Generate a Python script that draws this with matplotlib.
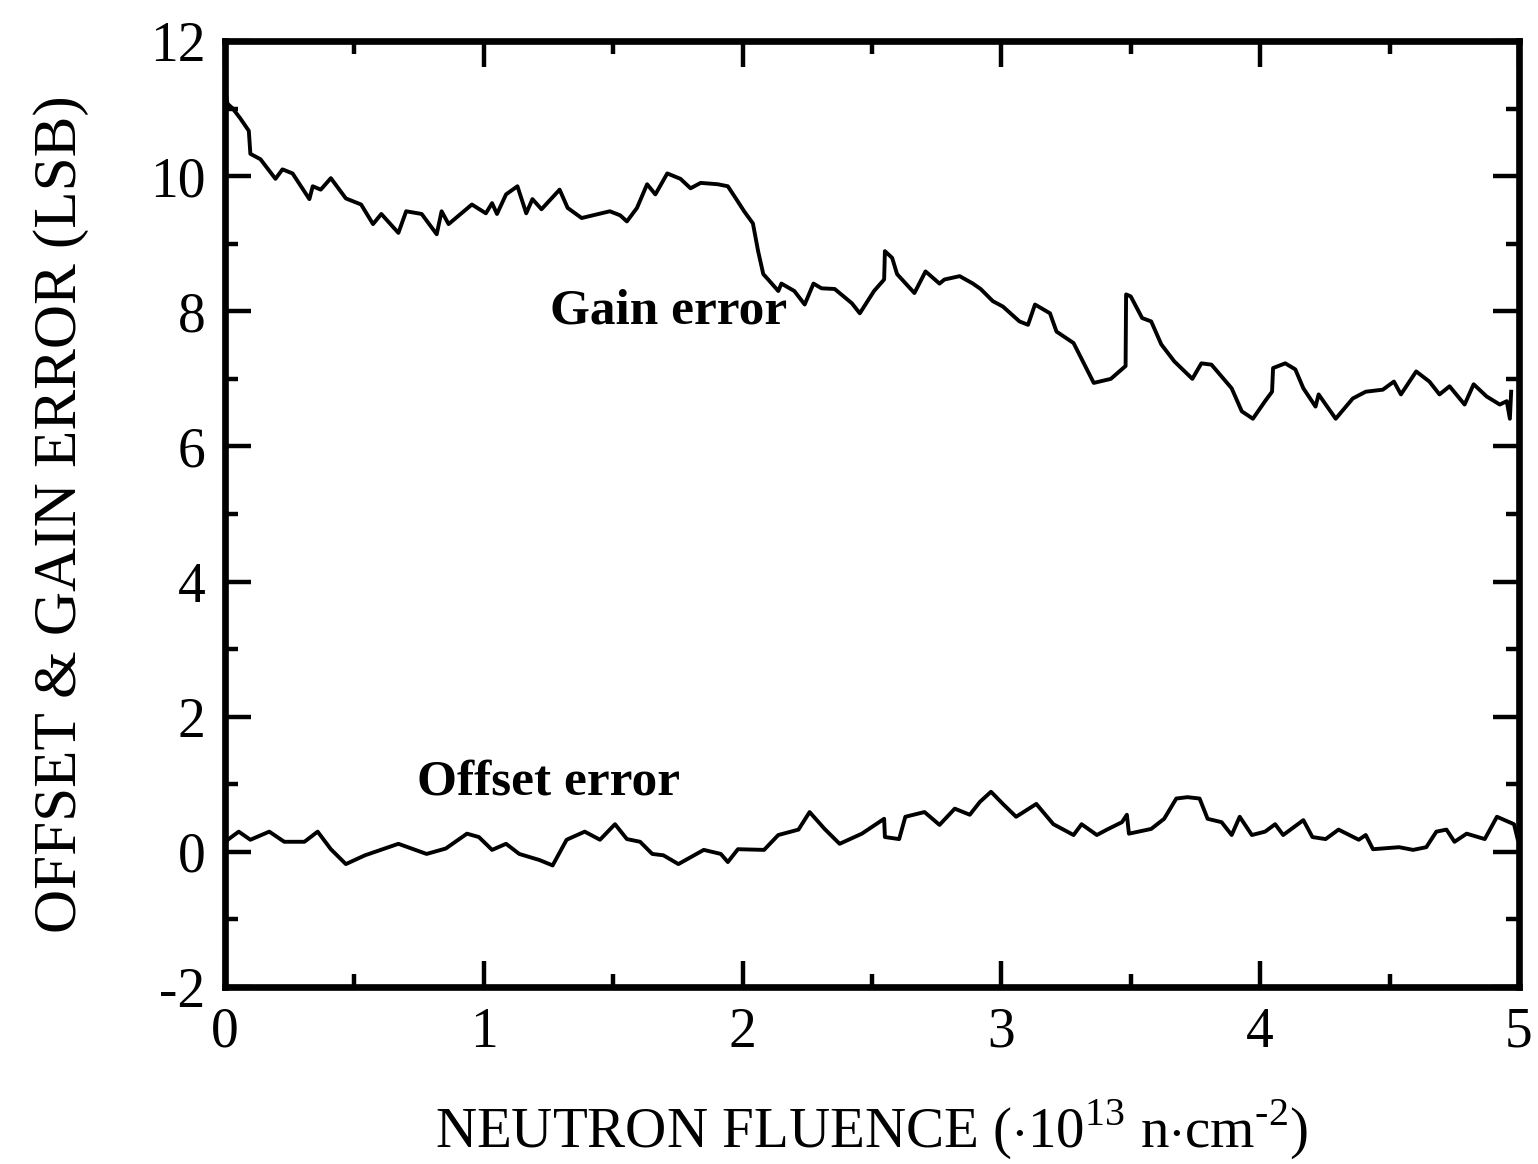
import matplotlib
matplotlib.use('Agg')
import matplotlib.pyplot as plt
from matplotlib.ticker import MultipleLocator

plt.rcParams['font.family'] = ['Liberation Serif', 'DejaVu Serif']
plt.rcParams['mathtext.fontset'] = 'custom'
plt.rcParams['mathtext.rm'] = 'Liberation Serif'
plt.rcParams['axes.unicode_minus'] = False

# Gain error curve
gain_x = [0.0, 0.01, 0.03, 0.058, 0.092, 0.098, 0.137, 0.195, 0.222, 0.261, 0.326,
          0.339, 0.37, 0.409, 0.467, 0.526, 0.572, 0.604, 0.67, 0.70, 0.76, 0.818,
          0.837, 0.864, 0.954, 1.008, 1.032, 1.051, 1.086, 1.13, 1.164, 1.188, 1.223,
          1.293, 1.324, 1.378, 1.487, 1.527, 1.553, 1.592, 1.631, 1.663, 1.709, 1.76,
          1.799, 1.838, 1.904, 1.943, 1.974, 2.006, 2.04, 2.06, 2.08, 2.099, 2.138,
          2.15, 2.2, 2.24, 2.274, 2.305, 2.356, 2.422, 2.453, 2.508, 2.547, 2.55,
          2.578, 2.597, 2.664, 2.707, 2.761, 2.78, 2.839, 2.89, 2.92, 2.967, 3.006,
          3.07, 3.103, 3.13, 3.188, 3.213, 3.279, 3.357, 3.423, 3.48, 3.482, 3.5,
          3.544, 3.579, 3.618, 3.668, 3.738, 3.773, 3.812, 3.89, 3.929, 3.972, 4.019,
          4.046, 4.05, 4.097, 4.136, 4.167, 4.214, 4.226, 4.292, 4.358, 4.408, 4.474,
          4.517, 4.544, 4.603, 4.654, 4.693, 4.732, 4.79, 4.825, 4.875, 4.926, 4.953,
          4.965, 4.97]
gain_y = [11.29, 11.07, 11.0, 10.86, 10.67, 10.33, 10.25, 9.96, 10.1, 10.04, 9.66,
          9.85, 9.8, 9.97, 9.67, 9.58, 9.29, 9.44, 9.16, 9.48, 9.44, 9.14,
          9.48, 9.29, 9.58, 9.45, 9.6, 9.44, 9.73, 9.85, 9.45, 9.66, 9.51,
          9.8, 9.53, 9.38, 9.48, 9.42, 9.33, 9.53, 9.88, 9.73, 10.04, 9.96,
          9.82, 9.9, 9.88, 9.85, 9.67, 9.48, 9.3, 8.89, 8.55, 8.47, 8.3,
          8.41, 8.3, 8.1, 8.41, 8.34, 8.33, 8.12, 7.97, 8.3, 8.47, 8.89,
          8.79, 8.55, 8.27, 8.59, 8.41, 8.47, 8.52, 8.41, 8.33, 8.15, 8.07,
          7.85, 7.8, 8.1, 7.97, 7.7, 7.53, 6.94, 7.0, 7.19, 8.25, 8.22,
          7.9, 7.85, 7.51, 7.26, 7.0, 7.23, 7.21, 6.86, 6.52, 6.41, 6.67,
          6.81, 7.16, 7.23, 7.14, 6.86, 6.59, 6.77, 6.41, 6.71, 6.81, 6.84,
          6.96, 6.77, 7.11, 6.96, 6.77, 6.89, 6.62, 6.92, 6.74, 6.62, 6.67,
          6.41, 6.81]

# Offset error curve
offset_x = [0.0, 0.053, 0.098, 0.171, 0.229, 0.307, 0.358, 0.409, 0.467, 0.541,
            0.67, 0.779, 0.853, 0.935, 0.981, 1.032, 1.086, 1.137, 1.215, 1.266,
            1.32, 1.39, 1.449, 1.507, 1.553, 1.604, 1.651, 1.694, 1.752, 1.85,
            1.916, 1.943, 1.982, 2.083, 2.138, 2.216, 2.259, 2.317, 2.375, 2.461,
            2.547, 2.55, 2.605, 2.629, 2.703, 2.761, 2.82, 2.878, 2.917, 2.96,
            3.006, 3.057, 3.135, 3.201, 3.279, 3.31, 3.369, 3.408, 3.466, 3.485,
            3.493, 3.579, 3.629, 3.676, 3.719, 3.766, 3.797, 3.851, 3.89, 3.921,
            3.968, 4.019, 4.058, 4.089, 4.167, 4.202, 4.253, 4.303, 4.381, 4.408,
            4.436, 4.537, 4.591, 4.642, 4.681, 4.72, 4.751, 4.798, 4.868, 4.915,
            4.981, 4.995]
offset_y = [0.15, 0.3, 0.18, 0.3, 0.15, 0.15, 0.3, 0.04, -0.18, -0.05,
            0.12, -0.03, 0.05, 0.27, 0.22, 0.03, 0.12, -0.03, -0.12, -0.2,
            0.18, 0.3, 0.18, 0.41, 0.19, 0.15, -0.03, -0.05, -0.18, 0.03,
            -0.03, -0.15, 0.04, 0.03, 0.25, 0.33, 0.59, 0.34, 0.12, 0.27,
            0.49, 0.22, 0.19, 0.52, 0.59, 0.4, 0.64, 0.55, 0.74, 0.89,
            0.71, 0.52, 0.71, 0.41, 0.25, 0.41, 0.25, 0.33, 0.44, 0.55,
            0.27, 0.34, 0.49, 0.79, 0.81, 0.79, 0.49, 0.44, 0.25, 0.52,
            0.25, 0.3, 0.41, 0.25, 0.47, 0.22, 0.19, 0.33, 0.18, 0.25,
            0.04, 0.07, 0.03, 0.07, 0.3, 0.33, 0.15, 0.27, 0.19, 0.52,
            0.41, 0.19]

x_ticks = [0, 1, 2, 3, 4, 5]
y_ticks = [-2, 0, 2, 4, 6, 8, 10, 12]

fig = plt.figure(figsize=(15.38, 11.64), dpi=100)
ax = fig.add_axes([0.1463, 0.152, 0.8413, 0.8128])

ax.plot(gain_x, gain_y, color='black', lw=2.8)
ax.plot(offset_x, offset_y, color='black', lw=2.8)

ax.text(1.256, 7.99, 'Gain error', fontsize=37, fontweight='bold', va='center', ha='left')
ax.text(0.742, 1.02, 'Offset error', fontsize=37, fontweight='bold', va='center', ha='left')

ax.set_xlim(0, 5)
ax.set_ylim(-2, 12)
ax.set_xticks(x_ticks)
ax.set_yticks(y_ticks)
ax.xaxis.set_minor_locator(MultipleLocator(0.5))
ax.yaxis.set_minor_locator(MultipleLocator(1))
ax.tick_params(which='both', direction='in', top=True, right=True, width=3.2,
               labelsize=40)
ax.tick_params(which='major', length=19)
ax.tick_params(which='minor', length=9.5)
ax.tick_params(axis='x', pad=14)
ax.tick_params(axis='y', pad=14)
for s in ax.spines.values():
    s.set_linewidth(4.8)

ax.set_xlabel(r'NEUTRON FLUENCE ($\cdot$10$^{13}$ n$\cdot$cm$^{\text{-}2}$)',
              fontsize=41, labelpad=28)
ax.set_ylabel('OFFSET & GAIN ERROR (LSB)', fontsize=44, labelpad=44)

fig.savefig('out.png', dpi=100)
